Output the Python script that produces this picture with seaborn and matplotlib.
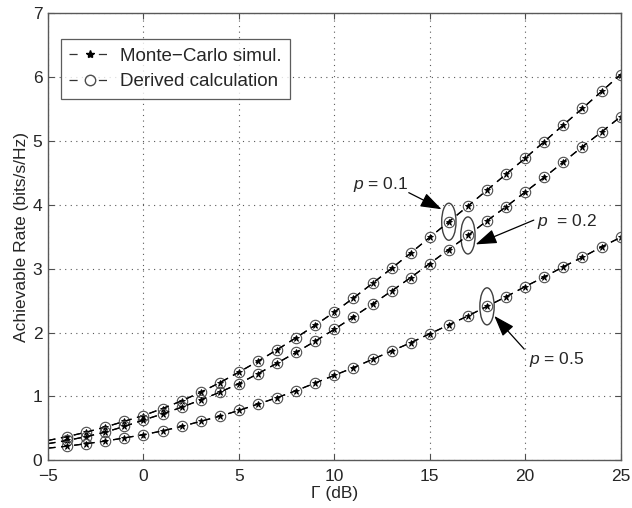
import numpy as np
import pandas as pd
import seaborn as sns
import matplotlib.pyplot as plt
from matplotlib.patches import Ellipse
from matplotlib.lines import Line2D

# SNR axis (dB)
snr_db = list(range(-5, 26))

# achievable rate, one list per p
rate_p01 = [0.31, 0.37, 0.44, 0.52, 0.61, 0.70, 0.81, 0.93, 1.065, 1.215, 1.38,
            1.55, 1.73, 1.92, 2.115, 2.32, 2.54, 2.77, 3.005, 3.245, 3.49,
            3.735, 3.98, 4.23, 4.48, 4.73, 4.99, 5.25, 5.51, 5.775, 6.04]
rate_p02 = [0.26, 0.31, 0.37, 0.44, 0.53, 0.63, 0.725, 0.83, 0.945, 1.065, 1.20,
            1.355, 1.52, 1.69, 1.865, 2.05, 2.245, 2.445, 2.65, 2.86, 3.08,
            3.30, 3.52, 3.75, 3.97, 4.20, 4.43, 4.67, 4.91, 5.14, 5.38]
rate_p05 = [0.19, 0.22, 0.26, 0.30, 0.35, 0.40, 0.46, 0.53, 0.61, 0.69, 0.78,
            0.88, 0.98, 1.09, 1.21, 1.33, 1.45, 1.58, 1.71, 1.84, 1.98,
            2.12, 2.26, 2.41, 2.56, 2.72, 2.87, 3.03, 3.18, 3.34, 3.49]

p_labels = ["0.1", "0.2", "0.5"]
legend_labels = ["Monte\u2212Carlo simul.", "Derived calculation"]

# circled point, text position, arrow tail, arrow head for each p
circle_at = {"0.1": (16, 3.735), "0.2": (17, 3.52), "0.5": (18, 2.41)}
text_at = {"0.1": (12.45, 4.32), "0.2": (20.6, 3.74), "0.5": (20.2, 1.58)}
tail_at = {"0.1": (13.9, 4.19), "0.2": (20.45, 3.76), "0.5": (19.95, 1.74)}
head_at = {"0.1": (15.62, 3.93), "0.2": (17.4, 3.38), "0.5": (18.38, 2.26)}
text_str = {"0.1": "$p$ = 0.1", "0.2": "$p$  = 0.2", "0.5": "$p$ = 0.5"}

df = pd.DataFrame({
    "snr": snr_db * 3,
    "rate": rate_p01 + rate_p02 + rate_p05,
    "p": [p for p in p_labels for _ in snr_db],
})

sns.set_style("white")
plt.rcParams["font.family"] = ["Liberation Sans", "DejaVu Sans"]
plt.rcParams["mathtext.fontset"] = "custom"
plt.rcParams["mathtext.it"] = "Liberation Sans:italic"
plt.rcParams["mathtext.rm"] = "Liberation Sans"

fig = plt.figure(figsize=(6.32, 5.08), dpi=100)
ax = fig.add_axes([0.076, 0.094, 0.906, 0.880])

dash = (0, (6, 4.5))
marks = list(range(1, len(snr_db)))
for p in p_labels:
    sub = df[df["p"] == p]
    sns.lineplot(data=sub, x="snr", y="rate", ax=ax, color="k", linestyle=dash,
                 dashes=False, lw=0.9, marker="o", markersize=7.5, mfc="none",
                 mec="0.3", mew=0.8, markevery=marks, legend=False)
    sns.lineplot(data=sub, x="snr", y="rate", ax=ax, color="k", linestyle=dash,
                 dashes=False, lw=0.9, marker="*", markersize=5, mfc="k",
                 mec="k", mew=0.6, markevery=marks, legend=False)

# ellipses + arrows
for p in p_labels:
    ax.add_patch(Ellipse(circle_at[p], 0.75, 0.58, fill=False, ec="0.25", lw=1.0))
    tx, ty = text_at[p]
    ax.text(tx, ty, text_str[p], fontsize=12.5, va="center",
            ha="center" if p == "0.1" else "left")
    ax.annotate("", xy=head_at[p], xytext=tail_at[p],
                arrowprops=dict(arrowstyle="-|>,head_length=1.3,head_width=0.45",
                                color="k", lw=0.9, shrinkA=0, shrinkB=0))

ax.set_xlim(-5, 25)
ax.set_ylim(0, 7)
ax.set_xticks(range(-5, 26, 5))
ax.set_yticks(range(0, 8))
ax.set_xlabel("\u0393 (dB)", fontsize=12.5, labelpad=2)
ax.set_ylabel("Achievable Rate (bits/s/Hz)", fontsize=12.5, labelpad=3)
ax.tick_params(direction="in", labelsize=12.5, length=4, color="0.3",
               top=True, right=True, bottom=True, left=True, pad=4)
ax.tick_params(axis="x", pad=6)
ax.grid(True, linestyle=(0, (1, 4)), color="0.35", lw=0.8)
for s in ax.spines.values():
    s.set_color("0.35")
    s.set_linewidth(1.0)

handles = [
    Line2D([], [], color="0.2", linestyle=(0, (6.5, 17)), lw=0.9, marker="*",
           markersize=6, mfc="k", mec="k"),
    Line2D([], [], color="0.2", linestyle=(0, (6.5, 17)), lw=0.9, marker="o",
           markersize=7.5, mfc="none", mec="0.3"),
]
leg = ax.legend(handles, legend_labels, loc="upper left", bbox_to_anchor=(0.022, 0.942),
                fontsize=13.5, frameon=True, fancybox=False, edgecolor="0.2",
                handlelength=2.2, borderpad=0.45, labelspacing=0.45, borderaxespad=0,
                handletextpad=0.5)
leg.get_frame().set_linewidth(0.9)

fig.savefig("out.png", dpi=100)
